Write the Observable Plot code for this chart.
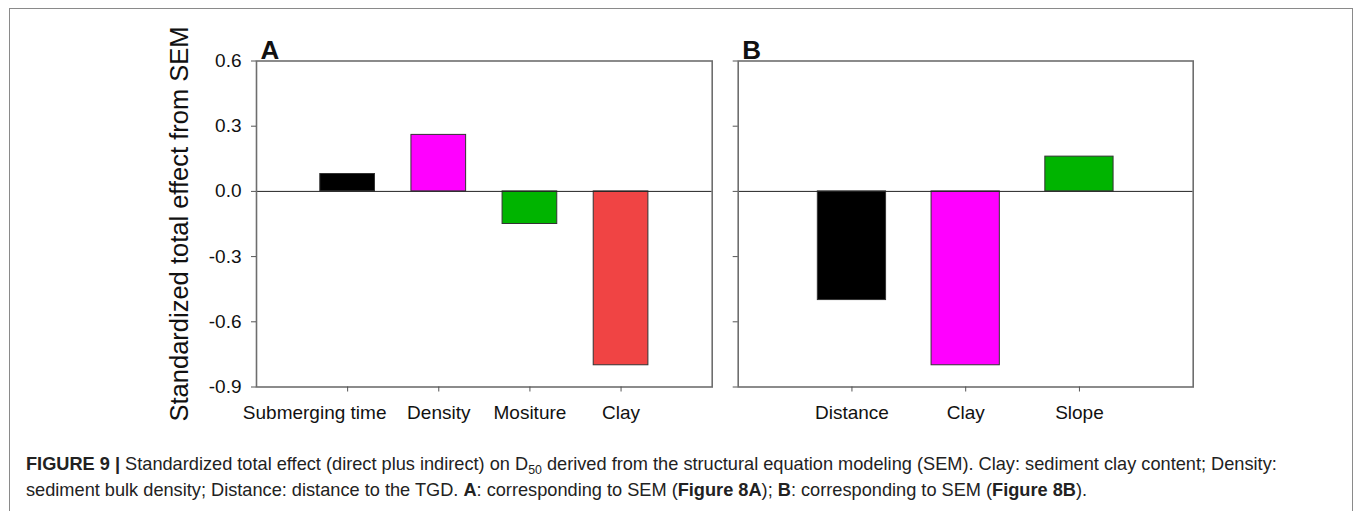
<!DOCTYPE html>
<html>
<head>
<meta charset="utf-8">
<script src="https://cdn.jsdelivr.net/npm/d3@7"></script>
<script src="https://cdn.jsdelivr.net/npm/@observablehq/plot@0.6"></script>
<style>
  html, body { margin: 0; padding: 0; background: #fff; }
  body { width: 1355px; height: 511px; overflow: hidden; position: relative; font-family: "Liberation Sans", Arial, sans-serif; }
  #border { position: absolute; left: 9px; top: 8px; width: 1344px; height: 530px; border: 1.5px solid #8a8a8a; box-sizing: border-box; }
  .panel { position: absolute; top: 20px; }
  #panelA { left: 140px; }
  #panelB { left: 720px; }
  #caption { position: absolute; left: 26px; top: 451px; font-size: 18.2px; line-height: 26px; color: #222; white-space: nowrap; }
  #caption sub { font-size: 0.68em; vertical-align: -0.3em; line-height: 0; }
</style>
</head>
<body>
<div id="border"></div>
<div id="panelA" class="panel"></div>
<div id="panelB" class="panel"></div>
<div id="caption"><b>FIGURE 9 |</b> Standardized total effect (direct plus indirect) on D<sub>50</sub> derived from the structural equation modeling (SEM). Clay: sediment clay content; Density:<br>sediment bulk density; Distance: distance to the TGD. <b>A</b>: corresponding to SEM (<b>Figure 8A</b>); <b>B</b>: corresponding to SEM (<b>Figure 8B</b>).</div>
<script>
// ---- data ----
const catsA = ["Submerging time", "Density", "Mositure", "Clay"];
const valsA = [0.08, 0.26, -0.15, -0.80];
const colorsA = ["#000000", "#ff00ff", "#00b400", "#f04444"];

const catsB = ["Distance", "Clay", "Slope"];
const valsB = [-0.50, -0.80, 0.16];
const colorsB = ["#000000", "#ff00ff", "#00b400"];

const yTicks = [-0.9, -0.6, -0.3, 0.0, 0.3, 0.6];
const yTitle = "Standardized total effect from SEM";

function panel({cats, vals, colors, letter, xMax, width, marginLeft, marginRight, showY, firstLabelDx}) {
  const data = cats.map((c, k) => ({i: k + 1, name: c, v: vals[k], color: colors[k]}));
  const marks = [
    Plot.rect(data, {x1: d => d.i - 0.3, x2: d => d.i + 0.3, y1: 0, y2: "v", fill: "color", stroke: "#333", strokeWidth: 1}),
    Plot.ruleY([0], {stroke: "#222", strokeWidth: 1}),
    Plot.frame({stroke: "#6e6e6e", strokeWidth: 1.6}),
    Plot.axisX({ticks: data.map(d => d.i), tickSize: 5, tickFormat: () => "", label: null, stroke: "#555"}),
    Plot.axisY({ticks: yTicks, tickSize: 5, tickPadding: 10, stroke: "#555", label: null,
      tickFormat: showY ? (d => d.toFixed(1)) : (() => ""), fill: "#111"}),
    Plot.text(data.slice(0, 1), {x: "i", text: "name", frameAnchor: "bottom", dy: 32, dx: firstLabelDx, fill: "#111"}),
    Plot.text(data.slice(1), {x: "i", text: "name", frameAnchor: "bottom", dy: 32, fill: "#111"}),
    Plot.text([letter], {text: d => d, frameAnchor: "top-left", dx: 4, dy: -20.5, textAnchor: "start",
      fontWeight: "bold", fontSize: 26, fill: "#111"})
  ];
  if (showY) {
    marks.push(Plot.text([yTitle], {text: d => d, frameAnchor: "left", rotate: -90, dx: -77,
      textAnchor: "middle", fontSize: 25.5, fill: "#111"}));
  }
  return Plot.plot({
    width, height: 417,
    marginLeft, marginRight, marginTop: 40.5, marginBottom: 50.5,
    style: {fontFamily: "'Liberation Sans', Arial, sans-serif", fontSize: "19px", background: "transparent", overflow: "visible"},
    x: {type: "linear", domain: [0, xMax], axis: null},
    y: {domain: [-0.9, 0.6], axis: null},
    marks
  });
}

document.getElementById("panelA").append(panel({
  cats: catsA, vals: valsA, colors: colorsA, letter: "A", xMax: 5,
  width: 577, marginLeft: 116, marginRight: 5.3, showY: true, firstLabelDx: -33
}));
document.getElementById("panelB").append(panel({
  cats: catsB, vals: valsB, colors: colorsB, letter: "B", xMax: 4,
  width: 483, marginLeft: 17.7, marginRight: 10.3, showY: false, firstLabelDx: 0
}));
</script>
</body>
</html>
